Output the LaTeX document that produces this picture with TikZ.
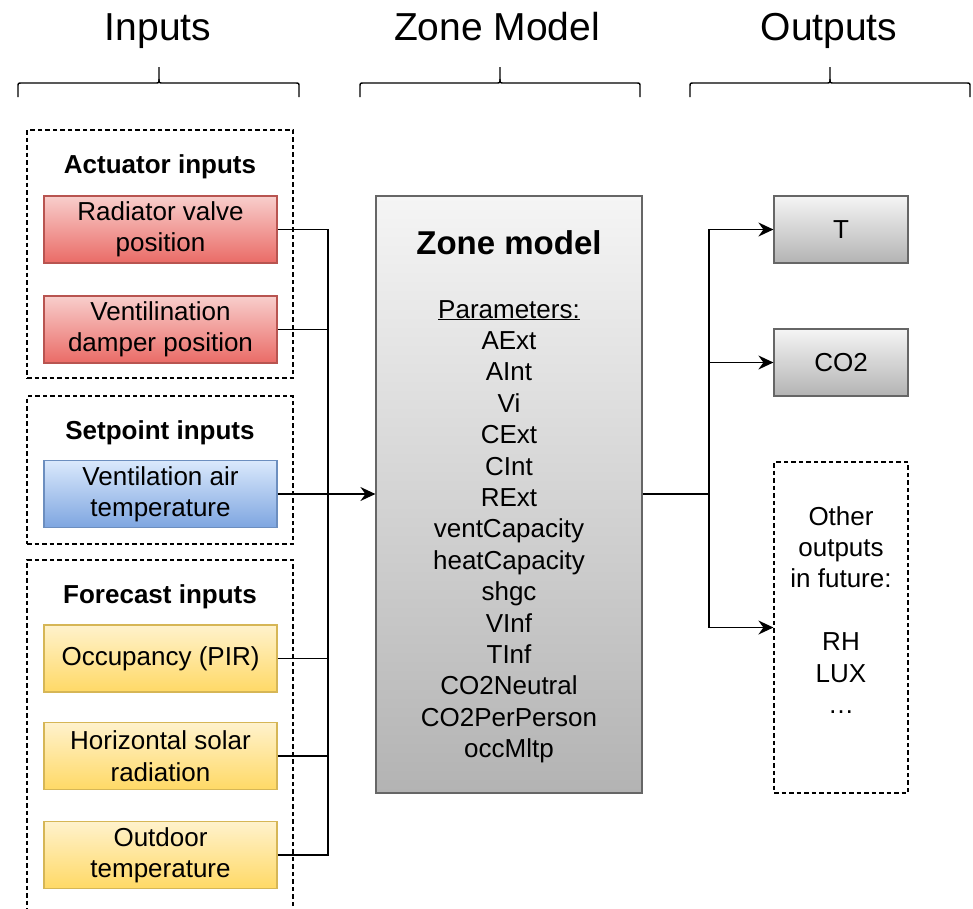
\documentclass[tikz,border=0pt]{standalone}
\usepackage{fontspec}
\setmainfont{Liberation Sans}
\usetikzlibrary{arrows.meta}

\definecolor{actTop}{HTML}{F8CECC}
\definecolor{actBot}{HTML}{EA6B66}
\definecolor{actLine}{HTML}{B85450}
\definecolor{setTop}{HTML}{DAE8FC}
\definecolor{setBot}{HTML}{7EA6E0}
\definecolor{setLine}{HTML}{6C8EBF}
\definecolor{fcTop}{HTML}{FFF2CC}
\definecolor{fcBot}{HTML}{FFD966}
\definecolor{fcLine}{HTML}{D6B656}
\definecolor{zoneTop}{HTML}{F5F5F5}
\definecolor{zoneBot}{HTML}{B3B3B3}
\definecolor{zoneLine}{HTML}{666666}

\tikzset{
  body/.style={font=\fontsize{26}{31.4}\selectfont},
  hdr/.style={font=\fontsize{39}{46}\selectfont, anchor=base, inner sep=0pt},
  grptitle/.style={font=\fontsize{26}{31.4}\selectfont\bfseries, anchor=base, inner sep=0pt},
  grp/.style={draw, dash pattern=on 4.5pt off 3pt, line width=1.2pt, inner sep=0pt},
  inbox/.style={body, draw, line width=1.2pt, minimum width=233pt, minimum height=67pt,
    align=center, inner sep=0pt},
  actbox/.style={inbox, top color=actTop, bottom color=actBot, draw=actLine},
  setbox/.style={inbox, top color=setTop, bottom color=setBot, draw=setLine},
  fcbox/.style={inbox, top color=fcTop, bottom color=fcBot, draw=fcLine},
  outbox/.style={inbox, minimum width=134pt, top color=zoneTop, bottom color=zoneBot, draw=zoneLine},
  prm/.style={body, anchor=base, inner sep=0pt},
  wire/.style={line width=1.4pt},
  arr/.style={wire, -{Stealth[length=15pt, width=14pt, inset=5pt]}}
}

\begin{document}
\begin{tikzpicture}[x=1pt, y=-1pt]
  \clip (0,0) rectangle (973,908);

  % Column headers and their braces
  \node [hdr] (hdrIn) at (158,40) {Inputs};
  \node [hdr] (hdrZone) at (497,40) {Zone Model};
  \node [hdr] (hdrOut) at (829,40) {Outputs};
  \foreach \xa/\xm/\xb in {18/159/299, 360/500/640, 690/830/970} {
    \draw [wire] (\xa,97) -- (\xa,87) .. controls (\xa,83) .. (\xa+4,83) -- (\xm-4,83)
      .. controls (\xm,83) .. (\xm,79) -- (\xm,67);
    \draw [wire] (\xm,79) .. controls (\xm,83) .. (\xm+4,83) -- (\xb-4,83)
      .. controls (\xb,83) .. (\xb,87) -- (\xb,97);
  }

  % Dashed groups of the inputs
  \node [grp, minimum width=266pt, minimum height=248pt] (actGrp) at (160,254) {};
  \node [grp, minimum width=266pt, minimum height=148pt] (setGrp) at (160,470) {};
  \node [grp, minimum width=266pt, minimum height=380pt] (fcGrp) at (160,750) {};
  \node [grptitle] (actTitle) at (160,173) {Actuator inputs};
  \node [grptitle] (setTitle) at (160,439) {Setpoint inputs};
  \node [grptitle] (fcTitle) at (160,603) {Forecast inputs};

  % Input boxes
  \node [actbox] (radValve) at (160.5,229.5) {Radiator valve\\position};
  \node [actbox] (ventDamper) at (160.5,329.5) {Ventilination\\damper position};
  \node [setbox] (ventAir) at (160.5,494) {Ventilation air\\temperature};
  \node [fcbox] (occ) at (160.5,658.5) {Occupancy (PIR)};
  \node [fcbox] (solar) at (160.5,756) {Horizontal solar\\radiation};
  \node [fcbox] (outdoor) at (160.5,855) {Outdoor\\temperature};

  % Zone model with its parameters
  \node [draw=zoneLine, line width=1.2pt, top color=zoneTop, bottom color=zoneBot,
    minimum width=266pt, minimum height=597pt] (zone) at (509,494.5) {};
  \node [font=\fontsize{33}{40}\selectfont\bfseries, anchor=base, inner sep=0pt]
    (zoneTitle) at (509,254) {Zone model};
  \node [prm] (prm0) at (509,318) {\underline{Parameters:}};
  \foreach \p [count=\i] in {AExt, AInt, Vi, CExt, CInt, RExt, ventCapacity,
      heatCapacity, shgc, VInf, TInf, CO2Neutral, CO2PerPerson, occMltp} {
    \node [prm] (prm\i) at (509,318+\i*31.4) {\p};
  }

  % Outputs
  \node [outbox] (outT) at (841,229.5) {T};
  \node [outbox] (outCO2) at (841,362.5) {CO2};
  \node [grp, minimum width=134pt, minimum height=331pt] (outOther) at (841,627.5) {};
  \foreach \t/\yy [count=\i] in {Other/525, outputs/556.4, in future:/587.8,
      RH/650.6, LUX/682, {\ldots}/713.4} {
    \node [prm] (oth\i) at (841,\yy) {\t};
  }

  % Connectors from the inputs to the zone model
  \coordinate (busIn) at (328,494);
  \foreach \n in {radValve, ventDamper, occ, solar, outdoor} {
    \draw [wire] (\n.east) -| (busIn);
  }
  \draw [arr] (ventAir.east) -- (ventAir.east -| zone.west);

  % Connectors from the zone model to the outputs
  \coordinate (busOut) at (709,494);
  \draw [wire] (zone.east |- busOut) -- (busOut);
  \draw [arr] (busOut) |- (outT.west);
  \draw [arr] (busOut) |- (outCO2.west);
  \draw [arr] (busOut) |- (outOther.west);
\end{tikzpicture}
\end{document}
